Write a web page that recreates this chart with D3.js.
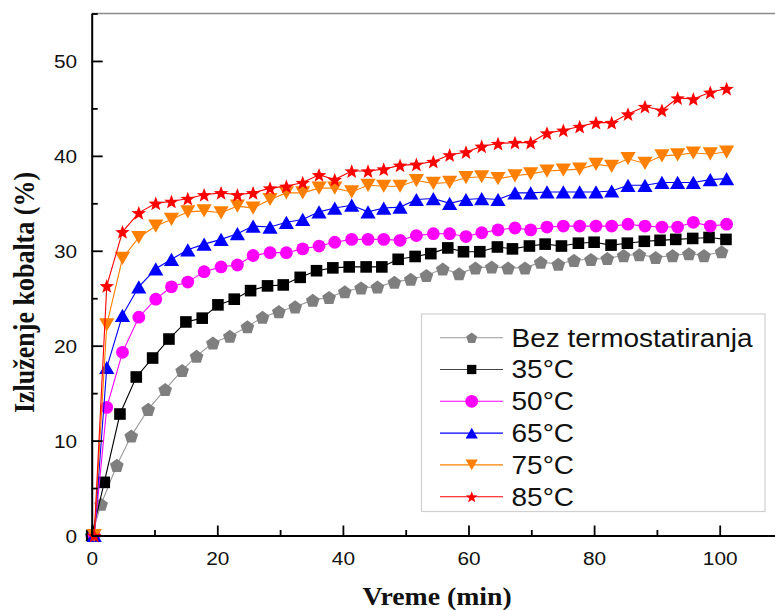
<!DOCTYPE html>
<html><head><meta charset="utf-8">
<script src="https://cdn.jsdelivr.net/npm/d3@7"></script>
<style>html,body{margin:0;padding:0;background:#fff;overflow:hidden}svg{display:block}</style>
</head><body>
<svg id="chart" width="775" height="610"></svg>
<script>
// ---- data ----
const seriesNames = ["Bez termostatiranja", "35°C", "50°C", "65°C", "75°C", "85°C"];
const timesGray = [0, 1.5, 4.0, 6.3, 9.0, 11.7, 14.4, 16.7, 19.3, 22.0, 24.8, 27.2, 29.8, 32.4, 35.2, 37.8, 40.3, 42.9, 45.5, 48.2, 50.8, 53.3, 55.9, 58.5, 61.1, 63.7, 66.3, 69.0, 71.5, 74.3, 76.8, 79.5, 82.1, 84.7, 87.2, 89.8, 92.5, 95.1, 97.5, 100.3];
const timesBlack = [0, 2.0, 4.5, 7.1, 9.7, 12.3, 15.0, 17.6, 20.1, 22.7, 25.3, 28.0, 30.5, 33.2, 35.8, 38.4, 41.0, 43.7, 46.2, 48.8, 51.5, 54.0, 56.7, 59.2, 61.8, 64.6, 67.0, 69.7, 72.2, 74.8, 77.5, 80.0, 82.7, 85.3, 88.0, 90.5, 93.0, 95.7, 98.3, 101.0];
const times = [0.4, 2.4, 4.9, 7.5, 10.2, 12.7, 15.3, 17.9, 20.6, 23.2, 25.7, 28.4, 31.0, 33.6, 36.2, 38.7, 41.4, 44.0, 46.5, 49.1, 51.7, 54.4, 57.0, 59.6, 62.1, 64.7, 67.4, 69.9, 72.5, 75.1, 77.7, 80.3, 82.8, 85.4, 88.1, 90.8, 93.3, 95.8, 98.5, 101.1];
const valuesGray = [0, 3.3, 7.4, 10.5, 13.3, 15.4, 17.4, 18.9, 20.3, 21.0, 22.0, 23.0, 23.6, 24.1, 24.8, 25.1, 25.7, 26.1, 26.2, 26.7, 27.0, 27.4, 28.1, 27.6, 28.2, 28.3, 28.2, 28.2, 28.8, 28.6, 29.0, 29.1, 29.2, 29.5, 29.6, 29.3, 29.5, 29.7, 29.5, 29.9];
const values35 = [0, 5.6, 12.8, 16.7, 18.7, 20.7, 22.5, 22.9, 24.3, 24.9, 25.8, 26.3, 26.4, 27.2, 27.9, 28.2, 28.3, 28.3, 28.3, 29.1, 29.4, 29.7, 30.3, 29.9, 29.9, 30.4, 30.2, 30.5, 30.7, 30.5, 30.8, 30.9, 30.6, 30.8, 31.0, 31.1, 31.2, 31.3, 31.4, 31.2];
const values50 = [0, 13.5, 19.3, 23.0, 24.9, 26.2, 26.7, 27.8, 28.3, 28.5, 29.5, 29.8, 29.8, 30.2, 30.5, 30.9, 31.2, 31.2, 31.2, 31.1, 31.6, 31.8, 31.8, 31.5, 31.9, 32.2, 32.4, 32.2, 32.5, 32.6, 32.6, 32.6, 32.6, 32.8, 32.6, 32.5, 32.5, 33.0, 32.6, 32.8];
const values65 = [0, 17.7, 23.2, 26.2, 28.1, 29.1, 30.1, 30.7, 31.2, 31.8, 32.6, 32.5, 33.0, 33.3, 34.1, 34.5, 34.8, 34.1, 34.5, 34.6, 35.4, 35.5, 35.0, 35.4, 35.5, 35.4, 36.1, 36.1, 36.2, 36.2, 36.2, 36.2, 36.3, 36.9, 36.9, 37.2, 37.2, 37.2, 37.5, 37.6];
const values75 = [0, 22.2, 29.2, 31.4, 32.6, 33.3, 34.1, 34.2, 34.0, 34.7, 34.5, 35.4, 36.1, 36.1, 36.6, 36.6, 36.2, 36.9, 36.8, 36.8, 37.4, 37.1, 37.2, 37.7, 37.8, 37.6, 37.9, 38.1, 38.4, 38.5, 38.6, 39.1, 38.9, 39.7, 39.2, 40.0, 40.1, 40.3, 40.2, 40.4];
const values85 = [0, 26.3, 32.0, 34.0, 35.0, 35.2, 35.5, 35.9, 36.1, 35.9, 36.1, 36.6, 36.8, 37.2, 38.0, 37.5, 38.4, 38.4, 38.6, 39.0, 39.1, 39.4, 40.1, 40.4, 41.0, 41.3, 41.4, 41.4, 42.4, 42.7, 43.1, 43.5, 43.5, 44.4, 45.2, 44.8, 46.1, 46.0, 46.7, 47.1];
const xMajorTicks = [0, 20, 40, 60, 80, 100];
const xMinorTicks = [10, 30, 50, 70, 90, 110];
const yMajorTicks = [0, 10, 20, 30, 40, 50];
const yMinorTicks = [5, 15, 25, 35, 45, 55];
const xTitle = "Vreme (min)";
const yTitle = "Izluženje kobalta (%)";

// ---- styles ----
const styles = [
  {times: timesGray, values: valuesGray, line: "#9a9a9a", fill: "#7f7f7f", shape: "pentagon"},
  {times: timesBlack, values: values35, line: "#000000", fill: "#000000", shape: "square"},
  {times: times, values: values50, line: "#ff00ff", fill: "#ff00ff", shape: "circle"},
  {times: times, values: values65, line: "#0000ff", fill: "#0000ff", shape: "triUp"},
  {times: times, values: values75, line: "#ff8000", fill: "#ff8000", shape: "triDown"},
  {times: times, values: values85, line: "#ff0000", fill: "#ff0000", shape: "star"}
];

function shapePath(shape, s) {
  // s = scale factor (1 for plot markers)
  const p = d3.path();
  if (shape === "pentagon") {
    const r = 7.2 * s;
    for (let i = 0; i < 5; i++) {
      const a = -Math.PI / 2 + i * 2 * Math.PI / 5;
      const px = r * Math.cos(a), py = r * Math.sin(a) + 0.8 * s;
      if (i === 0) p.moveTo(px, py); else p.lineTo(px, py);
    }
    p.closePath();
  } else if (shape === "square") {
    const h = 5.8 * s;
    p.rect(-h, -h, 2 * h, 2 * h);
  } else if (shape === "circle") {
    p.arc(0, 0, 6.4 * s, 0, 2 * Math.PI);
  } else if (shape === "triUp") {
    const w = 7.6 * s, h = 6.6 * s;
    p.moveTo(0, -h); p.lineTo(w, h); p.lineTo(-w, h); p.closePath();
  } else if (shape === "triDown") {
    const w = 7.6 * s, h = 6.6 * s;
    p.moveTo(0, h); p.lineTo(w, -h); p.lineTo(-w, -h); p.closePath();
  } else if (shape === "star") {
    const R = 7.6 * s, r = R * 0.42;
    for (let i = 0; i < 10; i++) {
      const a = -Math.PI / 2 + i * Math.PI / 5;
      const rr = i % 2 === 0 ? R : r;
      const px = rr * Math.cos(a), py = rr * Math.sin(a) + 0.8 * s;
      if (i === 0) p.moveTo(px, py); else p.lineTo(px, py);
    }
    p.closePath();
  }
  return p.toString();
}

const svg = d3.select("#chart");
const x = d3.scaleLinear().domain([0, 110]).range([91.7, 782.5]);
const y = d3.scaleLinear().domain([0, 55]).range([535.5, 13.5]);
const SX = 1.12; // horizontal text stretch

// top border
svg.append("line").attr("x1", x(0)).attr("x2", x(110)).attr("y1", y(55)).attr("y2", y(55))
  .attr("stroke", "#8a8a8a").attr("stroke-width", 1.5);

// series
const lineGen = d3.line().x(d => x(d[0])).y(d => y(d[1]));
styles.forEach(st => {
  const pts = st.times.map((t, i) => [t, st.values[i]]);
  const g = svg.append("g");
  g.append("path").attr("d", lineGen(pts)).attr("fill", "none")
    .attr("stroke", st.line).attr("stroke-width", 1.1);
  g.selectAll("path.m").data(pts).join("path").attr("class", "m")
    .attr("d", shapePath(st.shape, 1))
    .attr("transform", d => `translate(${x(d[0])},${y(d[1])})`)
    .attr("fill", st.fill);
});

// axes
function styleAxis(g) {
  g.select(".domain").attr("stroke", "#000").attr("stroke-width", 2);
  g.selectAll(".tick line").attr("stroke", "#000").attr("stroke-width", 1.8);
}
const fontTick = "'Liberation Sans', Arial, sans-serif";

const yAxis = svg.append("g").attr("transform", `translate(${x(0)},0)`)
  .call(d3.axisLeft(y).tickValues(yMajorTicks).tickSizeInner(-11).tickSizeOuter(0).tickPadding(14.5).tickFormat(d3.format("d")));
svg.append("g").attr("transform", `translate(${x(0)},0)`)
  .call(d3.axisLeft(y).tickValues(yMinorTicks).tickSizeInner(-6).tickSizeOuter(0).tickFormat(""))
  .call(g => { g.select(".domain").remove(); g.selectAll(".tick line").attr("stroke", "#000").attr("stroke-width", 1.8); });
styleAxis(yAxis);
yAxis.selectAll(".tick text").each(function() {
  const t = d3.select(this);
  const tx = +t.attr("x");
  t.attr("x", 0).attr("dy", null).attr("y", null)
   .attr("transform", `translate(${tx},6.8) scale(${SX},1)`)
   .attr("font-family", fontTick).attr("font-size", 18.6).attr("fill", "#111");
});

const xAxis = svg.append("g").attr("transform", `translate(0,${y(0)})`)
  .call(d3.axisBottom(x).tickValues(xMajorTicks).tickSizeInner(-10).tickSizeOuter(0).tickPadding(0).tickFormat(d3.format("d")));
svg.append("g").attr("transform", `translate(0,${y(0)})`)
  .call(d3.axisBottom(x).tickValues(xMinorTicks).tickSizeInner(-5.5).tickSizeOuter(0).tickFormat(""))
  .call(g => { g.select(".domain").remove(); g.selectAll(".tick line").attr("stroke", "#000").attr("stroke-width", 1.8); });
styleAxis(xAxis);
xAxis.selectAll(".tick text").each(function() {
  const t = d3.select(this);
  t.attr("y", 0).attr("dy", null)
   .attr("transform", `translate(0,29.5) scale(${SX},1)`)
   .attr("font-family", fontTick).attr("font-size", 18.6).attr("fill", "#111");
});

// axis titles
svg.append("text").text(xTitle)
  .attr("transform", `translate(${(x(0) + x(110)) / 2},605) scale(${SX},1)`)
  .attr("text-anchor", "middle").attr("font-family", "'Liberation Serif', 'Times New Roman', serif")
  .attr("font-weight", "bold").attr("font-size", 24.8).attr("fill", "#111");
svg.append("text").text(yTitle)
  .attr("transform", `translate(34,292.5) scale(${SX},1) rotate(-90)`)
  .attr("text-anchor", "middle").attr("font-family", "'Liberation Serif', 'Times New Roman', serif")
  .attr("font-weight", "bold").attr("font-size", 26).attr("fill", "#111");

// legend
const leg = svg.append("g");
leg.append("rect").attr("x", 421.5).attr("y", 314).attr("width", 343.5).attr("height", 197.5)
  .attr("fill", "#fff").attr("stroke", "#d0d0d0").attr("stroke-width", 1.2);
const rowY = d3.scaleLinear().domain([0, 5]).range([337.7, 496.7]);
styles.forEach((st, i) => {
  const cy = rowY(i);
  leg.append("line").attr("x1", 440).attr("x2", 503).attr("y1", cy).attr("y2", cy)
    .attr("stroke", st.line === "#000000" ? "#444" : st.line).attr("stroke-width", 1.1);
  leg.append("path").attr("d", shapePath(st.shape, i === 2 ? 1 : 0.8))
    .attr("transform", `translate(471.7,${cy})`).attr("fill", st.fill);
  leg.append("text").text(seriesNames[i])
    .attr("transform", `translate(511.5,${cy + 8.8}) scale(${SX},1)`)
    .attr("font-family", fontTick).attr("font-size", 25).attr("fill", "#111");
});
</script>
</body></html>
